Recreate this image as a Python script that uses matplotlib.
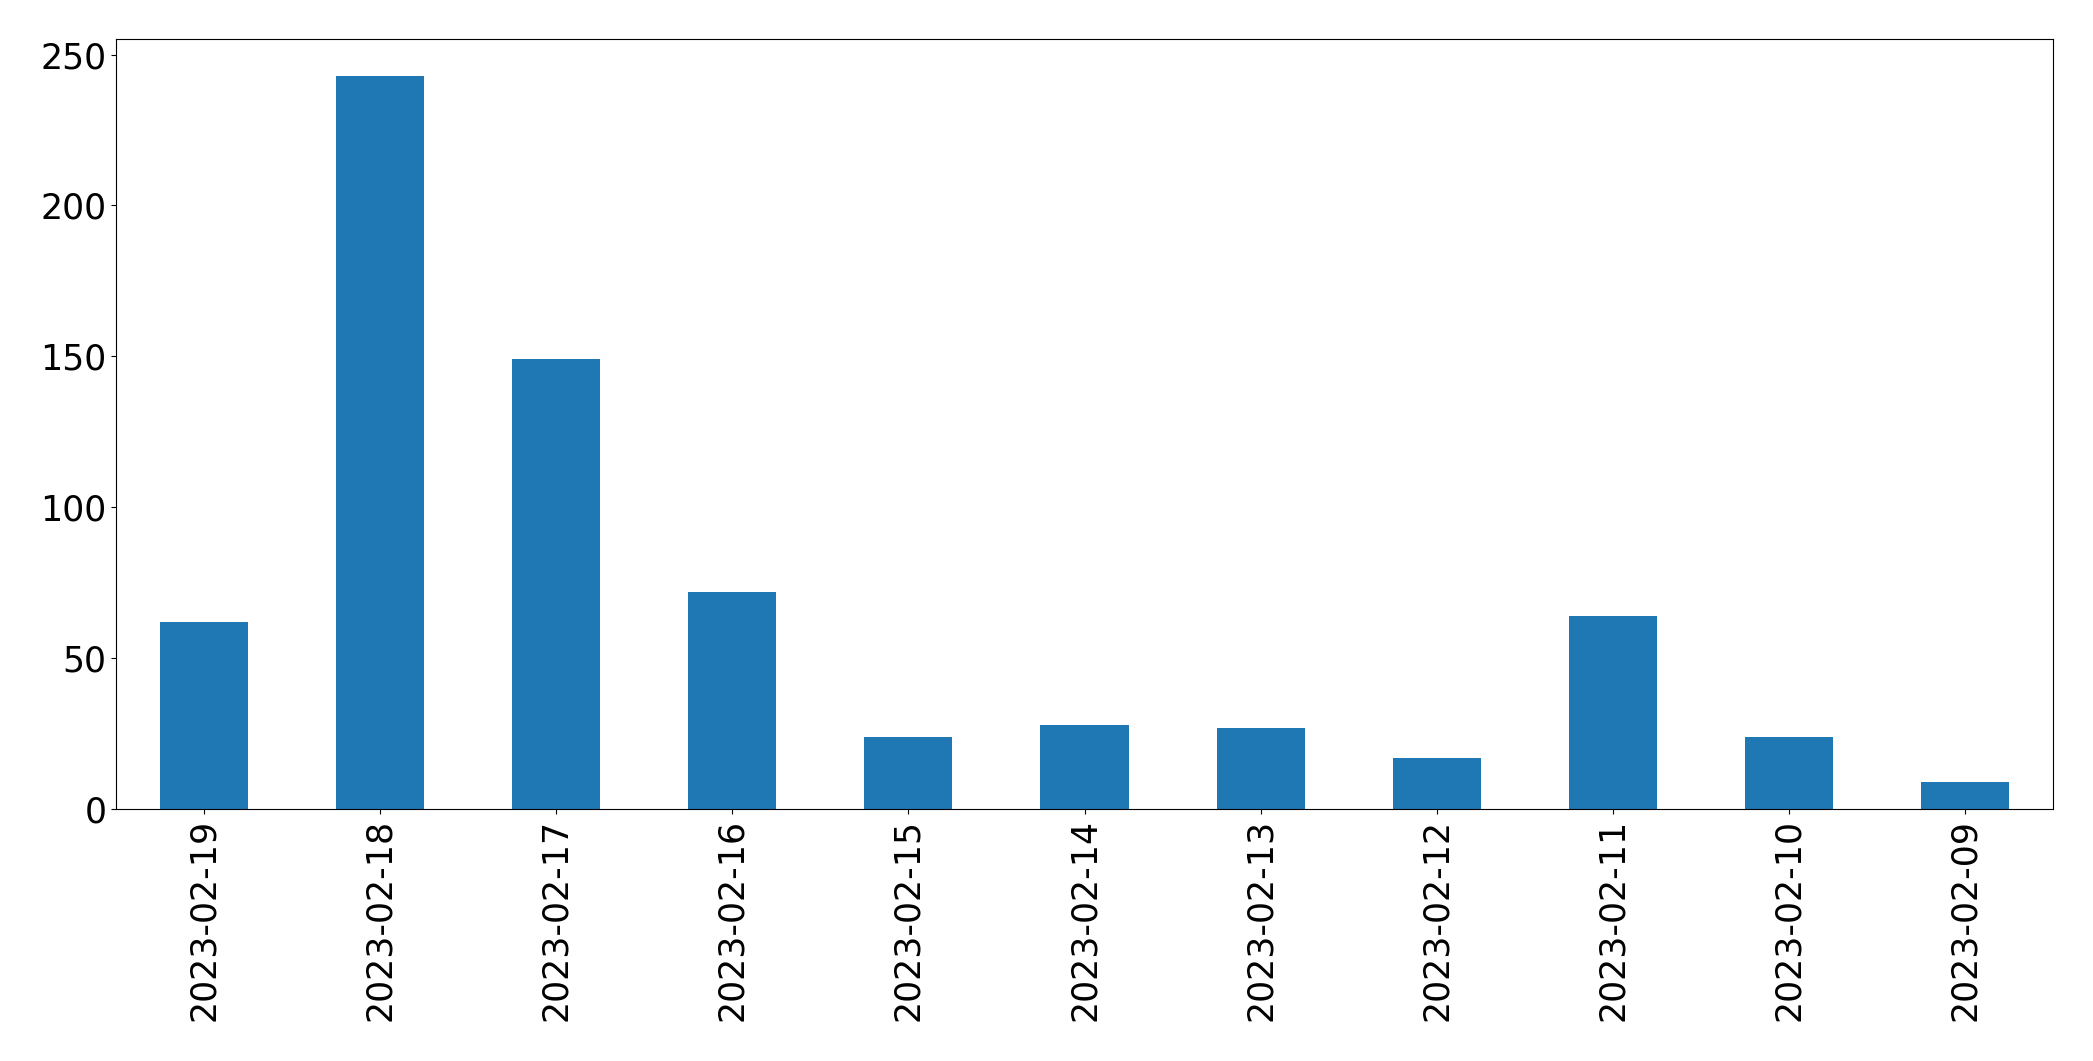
import matplotlib
matplotlib.use("Agg")
import matplotlib.pyplot as plt
import numpy as np

dates = ['2023-02-19', '2023-02-18', '2023-02-17', '2023-02-16', '2023-02-15',
         '2023-02-14', '2023-02-13', '2023-02-12', '2023-02-11', '2023-02-10',
         '2023-02-09']
counts = [62, 243, 149, 72, 24, 28, 27, 17, 64, 24, 9]

fig = plt.figure(figsize=(20.93, 10.61), dpi=100)
ax = fig.add_axes([116 / 2093, 1 - 809 / 1061, (2053 - 116) / 2093, (809 - 39) / 1061])

x = np.arange(len(dates))
ax.bar(x, counts, width=0.5, color='#1f77b4')
ax.set_xlim(-0.5, len(dates) - 0.5)
ax.set_ylim(0, max(counts) * 1.05)
ax.set_xticks(x)
ax.set_xticklabels(dates, rotation=90)
ax.tick_params(axis='both', labelsize=25)
for s in ax.spines.values():
    s.set_color('black')

fig.savefig('out.png', dpi=100)
plt.close(fig)
